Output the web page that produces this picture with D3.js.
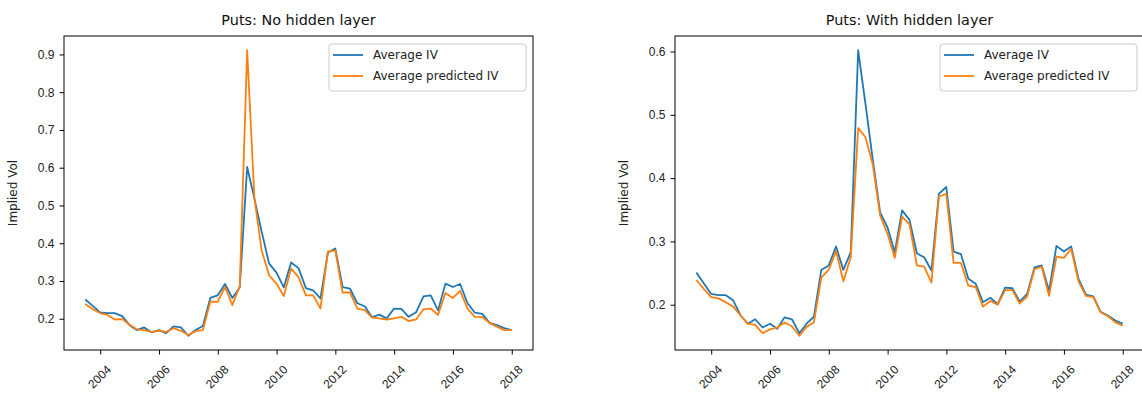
<!DOCTYPE html>
<html>
<head>
<meta charset="utf-8">
<script src="https://cdn.jsdelivr.net/npm/d3@7"></script>
<style>
  body { margin: 0; background: #fff; }
  svg { font-family: "DejaVu Sans", sans-serif; }
</style>
</head>
<body>
<svg id="chart" width="1142" height="398"></svg>
<script>
// quarter ends, 2003Q2 .. 2017Q4
const dates = [
  "2003-06-30","2003-09-30","2003-12-31",
  "2004-03-31","2004-06-30","2004-09-30","2004-12-31",
  "2005-03-31","2005-06-30","2005-09-30","2005-12-31",
  "2006-03-31","2006-06-30","2006-09-30","2006-12-31",
  "2007-03-31","2007-06-30","2007-09-30","2007-12-31",
  "2008-03-31","2008-06-30","2008-09-30","2008-12-31",
  "2009-03-31","2009-06-30","2009-09-30","2009-12-31",
  "2010-03-31","2010-06-30","2010-09-30","2010-12-31",
  "2011-03-31","2011-06-30","2011-09-30","2011-12-31",
  "2012-03-31","2012-06-30","2012-09-30","2012-12-31",
  "2013-03-31","2013-06-30","2013-09-30","2013-12-31",
  "2014-03-31","2014-06-30","2014-09-30","2014-12-31",
  "2015-03-31","2015-06-30","2015-09-30","2015-12-31",
  "2016-03-31","2016-06-30","2016-09-30","2016-12-31",
  "2017-03-31","2017-06-30","2017-09-30","2017-12-31"
];

const avgIV = [
  0.251, 0.234, 0.217, 0.215, 0.215, 0.207, 0.183, 0.170, 0.177, 0.164,
  0.170, 0.162, 0.180, 0.177, 0.155, 0.170, 0.181, 0.255, 0.262, 0.292,
  0.255, 0.283, 0.602, 0.518, 0.430, 0.346, 0.322, 0.283, 0.349, 0.334,
  0.281, 0.275, 0.254, 0.375, 0.386, 0.284, 0.280, 0.241, 0.233, 0.204,
  0.211, 0.201, 0.227, 0.226, 0.205, 0.217, 0.259, 0.262, 0.222, 0.293,
  0.284, 0.292, 0.241, 0.216, 0.213, 0.189, 0.183, 0.175, 0.170
];

const predNoHidden = [
  0.239, 0.225, 0.215, 0.210, 0.198, 0.199, 0.184, 0.172, 0.170, 0.165,
  0.168, 0.165, 0.175, 0.168, 0.157, 0.167, 0.170, 0.245, 0.245, 0.284,
  0.236, 0.286, 0.911, 0.520, 0.380, 0.315, 0.293, 0.260, 0.333, 0.310,
  0.262, 0.262, 0.227, 0.378, 0.381, 0.269, 0.270, 0.227, 0.223, 0.203,
  0.201, 0.198, 0.201, 0.205, 0.194, 0.198, 0.225, 0.227, 0.210, 0.268,
  0.255, 0.274, 0.227, 0.205, 0.204, 0.189, 0.179, 0.170, 0.170
];

const predHidden = [
  0.239, 0.225, 0.212, 0.210, 0.204, 0.197, 0.183, 0.170, 0.168, 0.155,
  0.161, 0.164, 0.172, 0.166, 0.151, 0.165, 0.172, 0.243, 0.255, 0.285,
  0.237, 0.275, 0.479, 0.465, 0.422, 0.341, 0.312, 0.274, 0.339, 0.327,
  0.262, 0.260, 0.235, 0.371, 0.375, 0.266, 0.266, 0.230, 0.228, 0.197,
  0.206, 0.200, 0.223, 0.223, 0.202, 0.213, 0.256, 0.260, 0.214, 0.276,
  0.274, 0.288, 0.237, 0.214, 0.212, 0.188, 0.182, 0.172, 0.167
];

const xTickYears = [2004, 2006, 2008, 2010, 2012, 2014, 2016, 2018];
const yTicksLeft = [0.2, 0.3, 0.4, 0.5, 0.6, 0.7, 0.8, 0.9];
const yTicksRight = [0.2, 0.3, 0.4, 0.5, 0.6];
const seriesNames = ["Average IV", "Average predicted IV"];

const colors = ["#1f77b4", "#ff7f0e"];
const parse = d3.timeParse("%Y-%m-%d");
const xDates = dates.map(parse);

const svg = d3.select("#chart");

function pad(ext, frac) {
  const span = ext[1] - ext[0];
  return [ext[0] - span * frac, ext[1] + span * frac];
}

function drawPanel(opts) {
  const { left, right, top, bottom, title, pred, yTicks } = opts;
  const g = svg.append("g");

  const tExt = d3.extent(xDates).map(d => +d);
  const x = d3.scaleTime()
    .domain(pad(tExt, 0.05).map(v => new Date(v)))
    .range([left, right]);

  const all = avgIV.concat(pred);
  const y = d3.scaleLinear()
    .domain(pad(d3.extent(all), 0.05))
    .range([bottom, top]);

  // x axis
  const xAxis = g.append("g")
    .attr("transform", `translate(0,${bottom})`)
    .call(d3.axisBottom(x)
      .tickValues(xTickYears.map(yr => new Date(yr, 0, 1)))
      .tickFormat(d3.timeFormat("%Y"))
      .tickSize(4.5)
      .tickPadding(4));
  xAxis.select(".domain").remove();
  xAxis.selectAll(".tick line").attr("stroke", "#000").attr("stroke-width", 1);
  xAxis.selectAll(".tick text")
    .attr("font-size", 12)
    .attr("fill", "#222")
    .attr("text-anchor", "middle")
    .attr("dominant-baseline", "central")
    .attr("y", 0)
    .attr("dy", 0)
    .attr("transform", "translate(-1,27) rotate(-45)");

  // y axis
  const yAxis = g.append("g")
    .attr("transform", `translate(${left},0)`)
    .call(d3.axisLeft(y)
      .tickValues(yTicks)
      .tickFormat(d3.format(".1f"))
      .tickSize(4.5)
      .tickPadding(5));
  yAxis.select(".domain").remove();
  yAxis.selectAll(".tick line").attr("stroke", "#000").attr("stroke-width", 1);
  yAxis.selectAll(".tick text").attr("font-size", 12).attr("fill", "#222");

  // lines
  const line = d3.line()
    .x((d, i) => x(xDates[i]))
    .y(d => y(d));

  [avgIV, pred].forEach((s, k) => {
    g.append("path")
      .datum(s)
      .attr("fill", "none")
      .attr("stroke", colors[k])
      .attr("stroke-width", 1.8)
      .attr("stroke-linejoin", "round")
      .attr("d", line);
  });

  // frame
  g.append("rect")
    .attr("x", left).attr("y", top)
    .attr("width", right - left).attr("height", bottom - top)
    .attr("fill", "none")
    .attr("stroke", "#000")
    .attr("stroke-width", 1);

  // title
  g.append("text")
    .attr("x", (left + right) / 2)
    .attr("y", top - 11)
    .attr("text-anchor", "middle")
    .attr("font-size", 14.4)
    .attr("fill", "#111")
    .text(title);

  // y label
  g.append("text")
    .attr("transform", `translate(${left - 47},${(top + bottom) / 2}) rotate(-90)`)
    .attr("text-anchor", "middle")
    .attr("font-size", 12)
    .attr("fill", "#222")
    .text("Implied Vol");

  // legend
  const lg = g.append("g").attr("transform", `translate(${right - 204},${top + 8})`);
  lg.append("rect")
    .attr("width", 197).attr("height", 47)
    .attr("rx", 3)
    .attr("fill", "#fff").attr("fill-opacity", 0.8)
    .attr("stroke", "#ccc");
  seriesNames.forEach((name, k) => {
    const yy = 11 + k * 21;
    lg.append("line")
      .attr("x1", 4).attr("x2", 34)
      .attr("y1", yy).attr("y2", yy)
      .attr("stroke", colors[k]).attr("stroke-width", 1.8);
    lg.append("text")
      .attr("x", 44).attr("y", yy)
      .attr("dominant-baseline", "central")
      .attr("font-size", 12)
      .attr("fill", "#222")
      .text(name);
  });
}

drawPanel({ left: 64, right: 533, top: 36, bottom: 350,
  title: "Puts: No hidden layer", pred: predNoHidden, yTicks: yTicksLeft });
drawPanel({ left: 675, right: 1144, top: 36, bottom: 350,
  title: "Puts: With hidden layer", pred: predHidden, yTicks: yTicksRight });
</script>
</body>
</html>
